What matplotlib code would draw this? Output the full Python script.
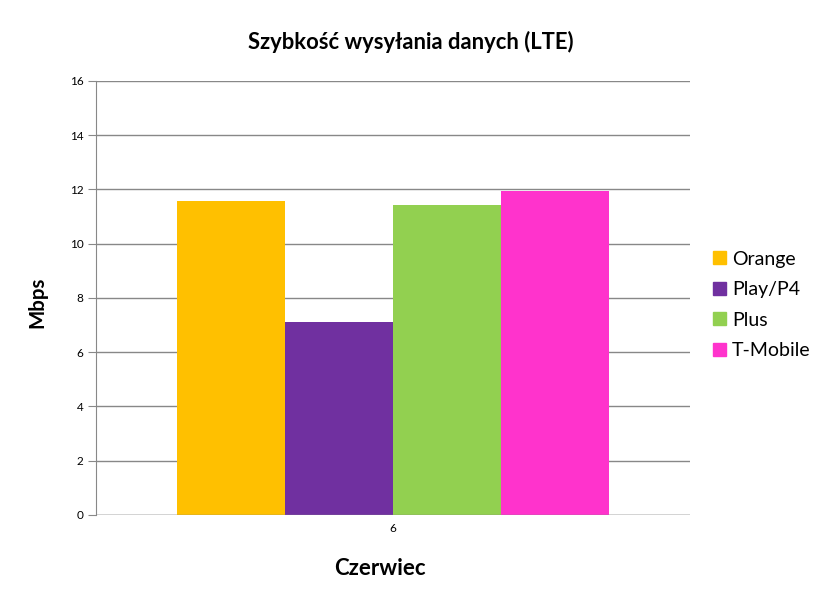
import matplotlib.pyplot as plt
from matplotlib.patches import Patch

operators = ['Orange', 'Play/P4', 'Plus', 'T-Mobile']
speeds = [11.59, 7.13, 11.43, 11.94]
colors = ['#FFC000', '#7030A0', '#92D050', '#FF33CC']
month_label = '6'

plt.rcParams['font.family'] = ['Lato', 'DejaVu Sans']

fig = plt.figure(figsize=(8.22, 6.05), dpi=100)
ax = fig.add_axes([0.1168, 0.1488, 0.7226, 0.7174])

w = 0.1818
offsets = [(i - 1.5) * w for i in range(len(operators))]
for off, v, c, name in zip(offsets, speeds, colors, operators):
    ax.bar(off, v, width=w, color=c, label=name, zorder=3)

ax.set_xlim(-0.5, 0.5)
ax.set_ylim(0, 16)
ax.set_yticks(range(0, 17, 2))
ax.set_xticks([0])
ax.set_xticklabels([month_label])
ax.yaxis.grid(True, color='#888888', linewidth=1.0, zorder=0)
for s in ['top', 'right', 'bottom']:
    ax.spines[s].set_visible(False)
ax.spines['left'].set_color('#888888')
ax.axhline(0, color='#888888', linewidth=1.0, zorder=4)
ax.tick_params(axis='y', length=6, color='#888888', labelsize=8.5, pad=3)
ax.tick_params(axis='x', length=0, labelsize=8.5, pad=6)

fig.text(0.5, 0.93, 'Szybkość wysyłania danych (LTE)', ha='center', va='center',
         fontsize=15.8, fontweight='bold')
fig.text(0.045, 0.50, 'Mbps', rotation=90, ha='center', va='center',
         fontsize=14.8, fontweight='bold')
fig.text(0.462, 0.06, 'Czerwiec', ha='center', va='center',
         fontsize=16, fontweight='bold')

handles = [Patch(color=c, label=n) for c, n in zip(colors, operators)]
fig.legend(handles=handles, loc='center left', bbox_to_anchor=(0.856, 0.496),
           frameon=False, fontsize=14, handlelength=0.65, handleheight=0.65,
           handletextpad=0.3, labelspacing=0.7, borderpad=0)

fig.savefig('out.png', dpi=100)
